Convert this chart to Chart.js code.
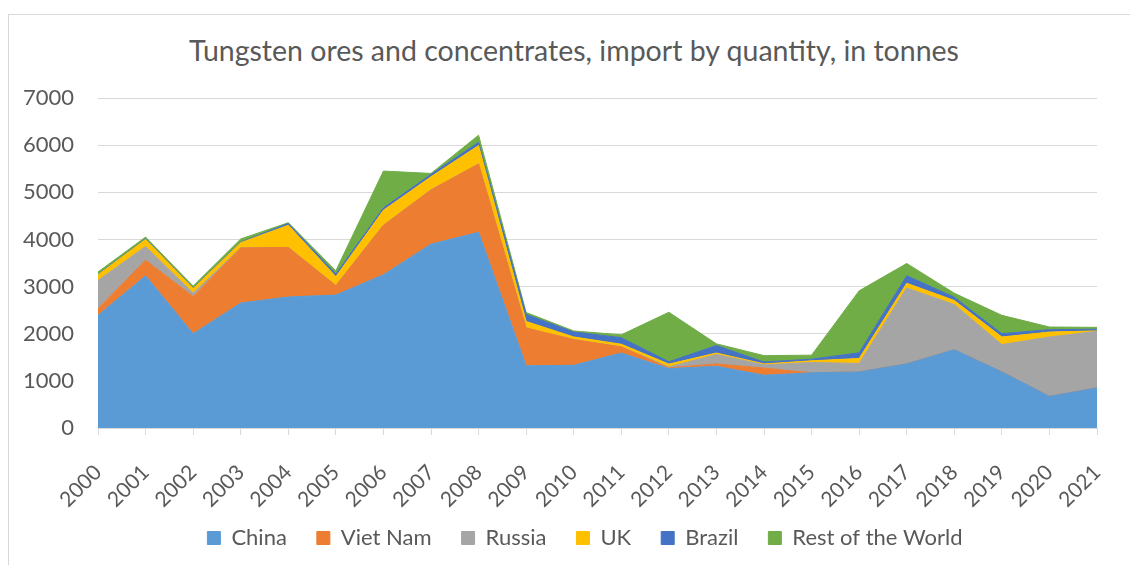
<!DOCTYPE html>
<html>
<head>
<meta charset="utf-8">
<script src="https://cdn.jsdelivr.net/npm/chart.js@4"></script>
<style>
  html, body { margin: 0; padding: 0; background: #fff; overflow: hidden; }
  #wrap { position: relative; width: 1130px; height: 565px; }
  #frame { position: absolute; left: 8px; top: 14px; width: 1200px; height: 600px; border: 1px solid #d9d9d9; }
  #title { position: absolute; left: 0; width: 1148px; top: 33px; text-align: center;
           font-family: Lato, sans-serif; font-size: 28.5px; color: #595959; line-height: 34px; }
  canvas { position: absolute; left: 0; top: 0; }
</style>
</head>
<body>
<div id="wrap">
  <div id="frame"></div>
  <div id="title">Tungsten ores and concentrates, import by quantity, in tonnes</div>
  <canvas id="chart" width="1130" height="565"></canvas>
</div>
<script>
const years = ["2000", "2001", "2002", "2003", "2004", "2005", "2006", "2007", "2008", "2009", "2010",
  "2011", "2012", "2013", "2014", "2015", "2016", "2017", "2018", "2019", "2020", "2021"];

const china   = [2390, 3230, 2000, 2650, 2780, 2820, 3250, 3900, 4150, 1320, 1330, 1590, 1260, 1310, 1120, 1170, 1190, 1360, 1660, 1190, 670, 850];
const vietNam = [140, 330, 790, 1170, 1050, 200, 1050, 1150, 1450, 800, 545, 130, 15, 50, 150, 0, 0, 0, 0, 0, 0, 0];
const russia  = [600, 290, 70, 0, 0, 0, 0, 0, 0, 0, 0, 0, 20, 200, 70, 220, 180, 1610, 960, 580, 1260, 1200];
const uk      = [120, 150, 100, 110, 470, 190, 320, 280, 390, 140, 56, 57, 60, 30, 20, 35, 105, 100, 85, 160, 106, 10];
const brazil  = [10, 10, 10, 10, 40, 56, 50, 50, 70, 150, 106, 140, 50, 160, 40, 35, 120, 160, 70, 70, 50, 35];
const rest    = [50, 40, 40, 70, 15, 70, 780, 20, 150, 40, 22, 60, 1050, 35, 135, 85, 1315, 260, 85, 390, 56, 40];

const yTicks = [0, 1000, 2000, 3000, 4000, 5000, 6000, 7000];

const textColor = "#595959";
const gridColor = "#d9d9d9";

function area(label, data, color, fill) {
  return {
    label,
    data,
    backgroundColor: color,
    borderColor: color,
    borderWidth: 1,
    pointRadius: 0,
    tension: 0,
    fill,
  };
}

// legend sits a bit right of the plot centre, and the rotated year labels
// hang below the x box, so widen the boxes after layout
const nudge = {
  id: "nudge",
  afterLayout(chart) {
    chart.legend.left += 73;
    chart.scales.x.bottom = chart.height;
  },
};

new Chart(document.getElementById("chart"), {
  type: "line",
  data: {
    labels: years,
    datasets: [
      area("China", china, "#5b9bd5", "origin"),
      area("Viet Nam", vietNam, "#ed7d31", "-1"),
      area("Russia", russia, "#a5a5a5", "-1"),
      area("UK", uk, "#ffc000", "-1"),
      area("Brazil", brazil, "#4472c4", "-1"),
      area("Rest of the World", rest, "#70ad47", "-1"),
    ],
  },
  plugins: [nudge],
  options: {
    responsive: false,
    animation: false,
    layout: { padding: { left: 0, right: 33, top: 98, bottom: 6 } },
    plugins: {
      title: { display: false },
      tooltip: { enabled: false },
      legend: {
        position: "bottom",
        labels: {
          boxWidth: 13,
          boxHeight: 13,
          padding: 30,
          color: textColor,
          font: { family: "Lato", size: 22 },
        },
      },
    },
    scales: {
      x: {
        offset: false,
        grid: { drawOnChartArea: false, drawTicks: true, tickLength: 7, color: gridColor },
        border: { display: true, color: gridColor },
        ticks: {
          color: textColor,
          font: { family: "Lato", size: 21 },
          minRotation: 45,
          maxRotation: 45,
          autoSkip: false,
          padding: 25,
        },
        afterFit: (scale) => {
          scale.height = 69;
          scale.paddingLeft = 0;
          scale.paddingRight = 0;
        },
      },
      y: {
        stacked: true,
        min: 0,
        max: 7000,
        afterBuildTicks: (scale) => { scale.ticks = yTicks.map((v) => ({ value: v })); },
        grid: { color: gridColor, drawTicks: false },
        border: { display: false },
        ticks: {
          color: textColor,
          font: { family: "Lato", size: 22 },
          padding: 24,
          callback: (value) => String(value),
        },
        afterFit: (scale) => { scale.width = 98; },
      },
    },
  },
});
</script>
</body>
</html>
